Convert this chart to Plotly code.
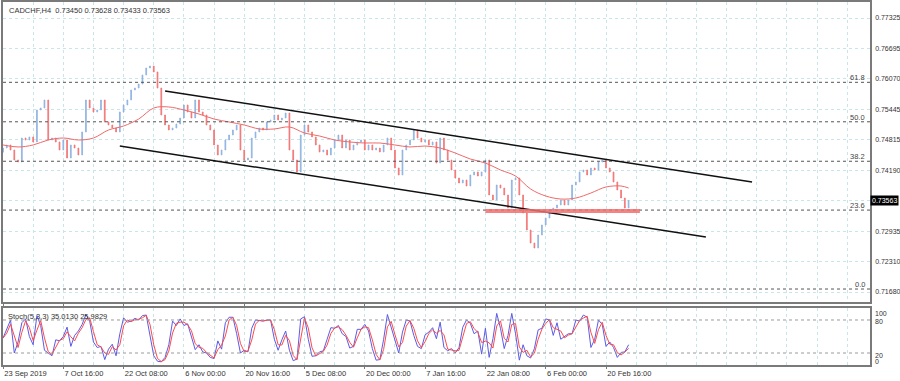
import plotly.graph_objects as go
import pandas as pd

# ---------------- data ----------------
symbol_title = "CADCHF,H4\u00a0\u00a00.73450 0.73628 0.73433 0.73563"
stoch_title = "Stoch(5,3,3) 35.0130 25.9829"

date_labels = ["23 Sep 2019", "7 Oct 16:00", "22 Oct 08:00", "6 Nov 00:00", "20 Nov 16:00",
               "5 Dec 08:00", "20 Dec 00:00", "7 Jan 16:00", "22 Jan 08:00", "6 Feb 00:00",
               "20 Feb 16:00"]
date_label_bars = [0, 64, 128, 192, 256, 320, 384, 448, 512, 576, 640]

bar_step = 4
first_open = 0.74560
closes = [
    0.74647, 0.74709, 0.74606, 0.74400, 0.74359, 0.74853, 0.74812, 0.74874, 0.74771, 0.75430,
    0.75471, 0.75636, 0.74812, 0.74853, 0.74771, 0.74606, 0.74812, 0.74441, 0.74709, 0.74647,
    0.74503, 0.74977, 0.75636, 0.75471, 0.75389, 0.75430, 0.75636, 0.75183, 0.75121, 0.75059,
    0.74977, 0.75389, 0.75533, 0.75636, 0.75842, 0.75883, 0.75965, 0.76151, 0.76295, 0.76336,
    0.76213, 0.75883, 0.75327, 0.75121, 0.75018, 0.75059, 0.75141, 0.75265, 0.75533, 0.75389,
    0.75265, 0.75636, 0.75389, 0.75327, 0.75121, 0.75018, 0.74709, 0.74503, 0.74606, 0.74812,
    0.74915, 0.75018, 0.75121, 0.74606, 0.74400, 0.74441, 0.74853, 0.74977, 0.75059, 0.75018,
    0.75183, 0.75224, 0.75327, 0.75224, 0.75265, 0.75368, 0.74606, 0.74400, 0.74153, 0.74915,
    0.75121, 0.74977, 0.74874, 0.74709, 0.74565, 0.74606, 0.74503, 0.74647, 0.74812, 0.74915,
    0.74647, 0.74812, 0.74606, 0.74709, 0.74771, 0.74812, 0.74606, 0.74709, 0.74606, 0.74647,
    0.74565, 0.74709, 0.74853, 0.74606, 0.74235, 0.74091, 0.74606, 0.74709, 0.74812, 0.75018,
    0.74853, 0.74771, 0.74812, 0.74709, 0.74771, 0.74338, 0.74853, 0.74606, 0.74400, 0.74194,
    0.74029, 0.73926, 0.73988, 0.73864, 0.74091, 0.74153, 0.74070, 0.74153, 0.74400, 0.73679,
    0.73576, 0.73885, 0.73823, 0.73679, 0.73411, 0.73988, 0.74029, 0.73679, 0.73308, 0.72958,
    0.72690, 0.72587, 0.72855, 0.73061, 0.73205, 0.73370, 0.73411, 0.73473, 0.73576, 0.73473,
    0.73576, 0.73885, 0.73947, 0.74153, 0.74194, 0.74091, 0.74235, 0.74194, 0.74359, 0.74400,
    0.74235, 0.74153, 0.73947, 0.73782, 0.73617, 0.73411, 0.73563,
]

ma_bars = [0, 16, 32, 48, 64, 80, 96, 112, 128, 144, 160, 176, 192, 208, 224, 240, 256, 272,
           288, 304, 320, 336, 352, 368, 384, 400, 416, 432, 448, 464, 480, 496, 512, 528, 544,
           560, 576, 592, 608, 624, 640, 656, 664]
ma_values = [0.74709, 0.74668, 0.74709, 0.74812, 0.74853, 0.74812, 0.74853, 0.75018, 0.75100,
             0.75244, 0.75471, 0.75492, 0.75430, 0.75347, 0.75244, 0.75183, 0.75121, 0.75039,
             0.75039, 0.75080, 0.74956, 0.74894, 0.74812, 0.74771, 0.74750, 0.74750, 0.74709,
             0.74668, 0.74688, 0.74647, 0.74544, 0.74420, 0.74338, 0.74194, 0.74070, 0.73802,
             0.73658, 0.73596, 0.73617, 0.73720, 0.73844, 0.73864, 0.73823]

stoch_k = [
    47, 65, 80, 20, 40, 75, 82, 50, 35, 88, 70, 25, 20, 15, 44, 42, 50, 67, 32, 52,
    60, 72, 90, 78, 40, 30, 32, 8, 27, 36, 15, 55, 84, 76, 78, 83, 80, 88, 89, 55,
    15, 5, 4, 12, 35, 78, 70, 82, 70, 73, 48, 26, 35, 22, 20, 12, 10, 42, 27, 75,
    85, 85, 55, 20, 25, 22, 65, 80, 79, 78, 80, 80, 45, 25, 44, 60, 25, 6, 9, 82,
    86, 45, 14, 15, 22, 24, 45, 66, 65, 70, 55, 50, 29, 32, 63, 63, 72, 60, 28, 7,
    8, 45, 90, 65, 42, 20, 58, 80, 78, 52, 32, 28, 53, 58, 66, 46, 76, 30, 24, 28,
    20, 30, 67, 80, 74, 55, 60, 18, 65, 12, 46, 92, 65, 28, 52, 92, 55, 7, 35, 15,
    11, 28, 62, 65, 82, 80, 52, 75, 45, 50, 55, 55, 80, 78, 89, 85, 30, 45, 80, 72,
    32, 40, 30, 12, 21, 22, 35,
]

price_ticks = [0.77325, 0.76695, 0.76070, 0.75445, 0.74815, 0.74190, 0.73563, 0.72935, 0.72310, 0.71680]
current_price = 0.73563

fib_names = ["61.8", "50.0", "38.2", "23.6", "0.0"]
fib_prices = [0.76000, 0.75187, 0.74374, 0.73368, 0.71742]

channel_upper = [(172, 0.75821), (795, 0.73947)]
channel_lower = [(124, 0.74688), (746, 0.72814)]
support_zone = dict(bar0=512, bar1=676, low=0.73308, high=0.73390)

stoch_levels = [80, 20]
stoch_ticks = ["100", "80", "20", "0"]

# ---------------- derived ----------------
bars = [i * bar_step for i in range(len(closes))]
opens = [first_open] + closes[:-1]
highs = [max(o, c) for o, c in zip(opens, closes)]
lows = [min(o, c) for o, c in zip(opens, closes)]
stoch_d = pd.Series(stoch_k).rolling(2, min_periods=1).mean().tolist()

# ---------------- styles ----------------
UP = "#8fb2e0"
DOWN = "#f27474"
GRID = "#c8e6ea"
BORDER = "#7a7a7a"
TXT = "#333333"
FONT = "Liberation Sans, Arial, sans-serif"
FS = 7

fig = go.Figure()

fig.add_trace(go.Candlestick(
    x=bars, open=opens, high=highs, low=lows, close=closes,
    increasing=dict(line=dict(color=UP, width=0.8), fillcolor=UP),
    decreasing=dict(line=dict(color=DOWN, width=0.8), fillcolor=DOWN),
    whiskerwidth=0, showlegend=False, hoverinfo="skip",
    xaxis="x", yaxis="y"))

fig.add_trace(go.Scatter(
    x=ma_bars, y=ma_values, mode="lines",
    line=dict(color="#f06a6a", width=1, shape="spline"),
    showlegend=False, hoverinfo="skip", xaxis="x", yaxis="y"))

fig.add_trace(go.Scatter(
    x=bars, y=stoch_k, mode="lines", line=dict(color="#5b5be8", width=1),
    showlegend=False, hoverinfo="skip", xaxis="x", yaxis="y2"))
fig.add_trace(go.Scatter(
    x=bars, y=stoch_d, mode="lines", line=dict(color="#ff4a4a", width=1),
    showlegend=False, hoverinfo="skip", xaxis="x", yaxis="y2"))

shapes = []
for p in fib_prices:
    shapes.append(dict(type="line", xref="paper", yref="y", x0=0, x1=1, y0=p, y1=p,
                       line=dict(color="#555555", width=1, dash="dot")))
for (b0, p0), (b1, p1) in [channel_upper, channel_lower]:
    shapes.append(dict(type="line", xref="x", yref="y", x0=b0, y0=p0, x1=b1, y1=p1,
                       line=dict(color="#111111", width=1.5)))
shapes.append(dict(type="rect", xref="x", yref="y",
                   x0=support_zone["bar0"], x1=support_zone["bar1"],
                   y0=support_zone["low"], y1=support_zone["high"],
                   fillcolor="rgba(240,110,110,0.85)", line=dict(width=0)))
for lv in stoch_levels:
    shapes.append(dict(type="line", xref="paper", yref="y2", x0=0, x1=1, y0=lv, y1=lv,
                       line=dict(color="#9a9a9a", width=1, dash="dot")))

annotations = [
    dict(text=symbol_title, xref="paper", yref="paper", x=0, y=1, xanchor="left", yanchor="top",
         xshift=4, yshift=-2, showarrow=False, font=dict(size=7.5, color=TXT, family=FONT)),
    dict(text=stoch_title, xref="paper", yref="paper", x=0, y=0.157, xanchor="left", yanchor="top",
         xshift=3, yshift=-2, showarrow=False, font=dict(size=7.5, color=TXT, family=FONT)),
    dict(text=f"{current_price:.5f}", xref="paper", yref="y", x=1, y=current_price,
         xanchor="left", yanchor="middle", xshift=0, showarrow=False, bgcolor="#000000",
         borderpad=1, font=dict(size=FS, color="#ffffff", family=FONT)),
]
for name, p in zip(fib_names, fib_prices):
    annotations.append(dict(text=name, xref="paper", yref="y", x=1, y=p, xanchor="right",
                            yanchor="bottom", xshift=-3, yshift=-2, showarrow=False,
                            font=dict(size=7.5, color="#444444", family=FONT)))
# stochastic scale labels, stacked as the terminal draws them inside the short panel
stoch_label_pos = [0.895, 0.77, 0.175, 0.06]  # fractions of the stochastic panel height
for txt, frac in zip(stoch_ticks, stoch_label_pos):
    annotations.append(dict(text=txt, xref="paper", yref="paper", x=1, y=frac * 0.15702,
                            xanchor="left", yanchor="middle", xshift=3, showarrow=False,
                            font=dict(size=FS, color=TXT, family=FONT)))

tick_text = ["" if abs(v - current_price) < 1e-9 else f"{v:.5f}" for v in price_ticks]

fig.update_layout(
    width=900, height=381,
    margin=dict(l=3, r=30, t=2, b=16, autoexpand=False),
    paper_bgcolor="white", plot_bgcolor="white",
    font=dict(family=FONT, size=FS, color=TXT),
    shapes=shapes, annotations=annotations,
    boxgap=0.7,
    xaxis=dict(
        range=[0, 920.2], anchor="y2", rangeslider=dict(visible=False), automargin=False,
        tickmode="array", tickvals=date_label_bars, ticktext=date_labels,
        ticklabelposition="outside right", ticks="outside", ticklen=2, tickcolor=BORDER,
        ticklabelstandoff=0,
        tickfont=dict(size=7.5, color=TXT, family=FONT),
        showgrid=True, gridcolor=GRID, griddash="dot", gridwidth=1,
        minor=dict(tickmode="linear", tick0=0, dtick=32, showgrid=True, gridcolor=GRID,
                   griddash="dot", gridwidth=1),
        showline=True, linecolor=BORDER, linewidth=1.5, mirror="all", zeroline=False,
    ),
    yaxis=dict(
        domain=[0.17355, 1], range=[0.714746, 0.776546], side="right", automargin=False,
        tickmode="array", tickvals=price_ticks, ticktext=tick_text,
        ticks="", ticklabelstandoff=2,
        tickfont=dict(size=FS, color=TXT, family=FONT),
        showgrid=True, gridcolor=GRID, griddash="dot", gridwidth=1,
        showline=True, linecolor=BORDER, linewidth=1.5, mirror=True, zeroline=False,
    ),
    yaxis2=dict(
        domain=[0, 0.15702], range=[-1.82, 101.8], side="right", automargin=False,
        showticklabels=False, ticks="",
        showgrid=False, showline=True, linecolor=BORDER, linewidth=1.5, mirror=True,
        zeroline=False,
    ),
)

fig.write_html(
    "out.html",
    config={"displayModeBar": False},
    post_script="document.body.style.margin='0';document.body.style.padding='0';"
                "document.documentElement.style.overflow='hidden';",
)
